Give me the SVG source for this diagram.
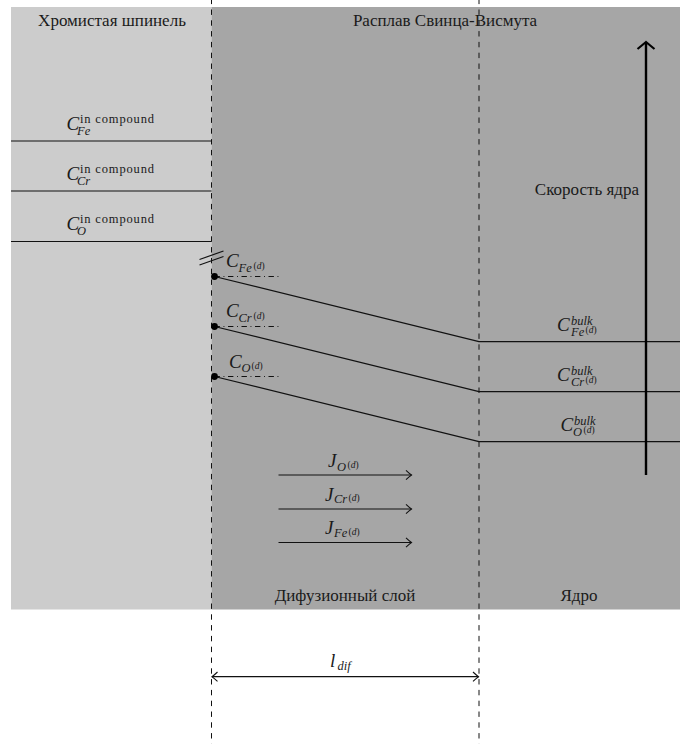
<svg xmlns="http://www.w3.org/2000/svg" width="684" height="744" viewBox="0 0 684 744">
<style>
.t{font-size:17px;fill:#1a1a1a}
.m{font-style:italic;fill:#1a1a1a}
.b{font-size:19px}
.s{font-size:12.5px}
.ss{font-size:9.5px}
.up{font-style:normal}
.ln{stroke:#111;stroke-width:1.2;fill:none}
.dash{stroke:#111;stroke-width:1;stroke-dasharray:5.4 5.4;stroke-dashoffset:1.3;fill:none}
.dd{stroke:#111;stroke-width:1;stroke-dasharray:5.4 3.6 0.9 3.6;fill:none}
</style>
<defs>
<marker id="to" markerUnits="userSpaceOnUse" markerWidth="12" markerHeight="12" refX="7" refY="6" orient="auto-start-reverse">
<path d="M1.5,1.3 Q5,4.6 7,6 Q5,7.4 1.5,10.7" fill="none" stroke="#111" stroke-width="1.1"/>
</marker>
<marker id="tobig" markerUnits="userSpaceOnUse" markerWidth="22" markerHeight="22" refX="11" refY="11" orient="auto">
<path d="M4,2.5 Q8.5,8 11,11 Q8.5,14 4,19.5" fill="none" stroke="#000" stroke-width="2.2"/>
</marker>
</defs>

<g id="regions">
<rect x="11" y="7" width="200.5" height="602.5" fill="#cccccc"/>
<rect x="211.5" y="7" width="468.5" height="602.5" fill="#a6a6a6"/>
</g>

<g id="connectors">
<line class="dash" x1="211.5" y1="0" x2="211.5" y2="744"/>
<line class="dash" x1="479" y1="0" x2="479" y2="744"/>
<line class="ln" x1="11" y1="141" x2="211.5" y2="141"/>
<line class="ln" x1="11" y1="191" x2="211.5" y2="191"/>
<line class="ln" x1="11" y1="241.5" x2="211.5" y2="241.5"/>
<line class="ln" x1="199.5" y1="259.5" x2="223.5" y2="251"/>
<line class="ln" x1="199.5" y1="265" x2="223.5" y2="256.5"/>
<line class="dd" x1="214.5" y1="276.5" x2="278.5" y2="276.5"/>
<line class="dd" x1="214.5" y1="326.5" x2="278.5" y2="326.5"/>
<line class="dd" x1="214.5" y1="376.5" x2="278.5" y2="376.5"/>
<polyline class="ln" points="214.5,276.5 479,341.7 680,341.7"/>
<polyline class="ln" points="214.5,326.5 479,391.7 680,391.7"/>
<polyline class="ln" points="214.5,376.5 479,441.7 680,441.7"/>
<circle cx="214.5" cy="276.5" r="3.4" fill="#000"/>
<circle cx="214.5" cy="326.5" r="3.4" fill="#000"/>
<circle cx="214.5" cy="376.5" r="3.4" fill="#000"/>
<line class="ln" x1="278.5" y1="475" x2="411.5" y2="475" marker-end="url(#to)"/>
<line class="ln" x1="278.5" y1="509" x2="411.5" y2="509" marker-end="url(#to)"/>
<line class="ln" x1="278.5" y1="542.5" x2="411.5" y2="542.5" marker-end="url(#to)"/>
<line class="ln" x1="212" y1="676.7" x2="478.5" y2="676.7" marker-start="url(#to)" marker-end="url(#to)"/>
<line x1="646" y1="475" x2="646" y2="42" stroke="#000" stroke-width="2.4" marker-end="url(#tobig)"/>
</g>

<g id="label-spinel"><text font-family="Liberation Serif" class="t" x="112" y="26" text-anchor="middle">Хромистая шпинель</text></g>
<g id="label-melt"><text font-family="Liberation Serif" class="t" x="445" y="26" text-anchor="middle">Расплав Свинца-Висмута</text></g>
<g id="label-speed"><text font-family="Liberation Serif" class="t" x="639" y="195" text-anchor="end">Скорость ядра</text></g>
<g id="label-diflayer"><text font-family="Liberation Serif" class="t" x="345" y="601" text-anchor="middle">Дифузионный слой</text></g>
<g id="label-core"><text font-family="Liberation Serif" class="t" x="579" y="601" text-anchor="middle">Ядро</text></g>

<g id="c-fe-compound"><text font-family="Liberation Serif" class="m"><tspan class="b" x="66.5" y="130">C</tspan><tspan class="s up" x="80" y="123" textLength="74" lengthAdjust="spacing">in compound</tspan></text><text font-family="Liberation Serif" class="m s" x="77" y="135">Fe</text></g>
<g id="c-cr-compound"><text font-family="Liberation Serif" class="m"><tspan class="b" x="66.5" y="180">C</tspan><tspan class="s up" x="80" y="173" textLength="74" lengthAdjust="spacing">in compound</tspan></text><text font-family="Liberation Serif" class="m s" x="77" y="185">Cr</text></g>
<g id="c-o-compound"><text font-family="Liberation Serif" class="m"><tspan class="b" x="66.5" y="230">C</tspan><tspan class="s up" x="80" y="223" textLength="74" lengthAdjust="spacing">in compound</tspan></text><text font-family="Liberation Serif" class="m s" x="77" y="235">O</text></g>

<g id="c-fe-d"><text font-family="Liberation Serif" class="m"><tspan class="b" x="226" y="266.5">C</tspan><tspan class="s" x="238.5" y="271.5">Fe</tspan><tspan class="ss" x="253.5" y="268.5"><tspan class="up">(</tspan>d<tspan class="up">)</tspan></tspan></text></g>
<g id="c-cr-d"><text font-family="Liberation Serif" class="m"><tspan class="b" x="226" y="317">C</tspan><tspan class="s" x="238.5" y="322">Cr</tspan><tspan class="ss" x="253.5" y="319"><tspan class="up">(</tspan>d<tspan class="up">)</tspan></tspan></text></g>
<g id="c-o-d"><text font-family="Liberation Serif" class="m"><tspan class="b" x="229" y="367.5">C</tspan><tspan class="s" x="241.5" y="372">O</tspan><tspan class="ss" x="251.5" y="369"><tspan class="up">(</tspan>d<tspan class="up">)</tspan></tspan></text></g>

<g id="c-fe-bulk"><text font-family="Liberation Serif" class="m"><tspan class="b" x="557" y="331">C</tspan><tspan class="s" x="571" y="324.5">bulk</tspan></text><text font-family="Liberation Serif" class="m"><tspan class="s" x="571" y="335.5">Fe</tspan><tspan class="ss" x="585.5" y="333"><tspan class="up">(</tspan>d<tspan class="up">)</tspan></tspan></text></g>
<g id="c-cr-bulk"><text font-family="Liberation Serif" class="m"><tspan class="b" x="557" y="381">C</tspan><tspan class="s" x="571" y="374.5">bulk</tspan></text><text font-family="Liberation Serif" class="m"><tspan class="s" x="571" y="385.5">Cr</tspan><tspan class="ss" x="585.5" y="383"><tspan class="up">(</tspan>d<tspan class="up">)</tspan></tspan></text></g>
<g id="c-o-bulk"><text font-family="Liberation Serif" class="m"><tspan class="b" x="560.5" y="430.5">C</tspan><tspan class="s" x="574" y="424.5">bulk</tspan></text><text font-family="Liberation Serif" class="m"><tspan class="s" x="573" y="435.5">O</tspan><tspan class="ss" x="583.5" y="433"><tspan class="up">(</tspan>d<tspan class="up">)</tspan></tspan></text></g>

<g id="j-o"><text font-family="Liberation Serif" class="m"><tspan class="b" x="328" y="467">J</tspan><tspan class="s" x="337" y="470.5">O</tspan><tspan class="ss" x="347.5" y="468"><tspan class="up">(</tspan>d<tspan class="up">)</tspan></tspan></text></g>
<g id="j-cr"><text font-family="Liberation Serif" class="m"><tspan class="b" x="325" y="500.5">J</tspan><tspan class="s" x="334" y="503">Cr</tspan><tspan class="ss" x="348.5" y="501"><tspan class="up">(</tspan>d<tspan class="up">)</tspan></tspan></text></g>
<g id="j-fe"><text font-family="Liberation Serif" class="m"><tspan class="b" x="325" y="534">J</tspan><tspan class="s" x="334" y="537">Fe</tspan><tspan class="ss" x="348.5" y="534.5"><tspan class="up">(</tspan>d<tspan class="up">)</tspan></tspan></text></g>

<g id="l-dif"><text font-family="Liberation Serif" class="m"><tspan class="b" x="330" y="666.5">l</tspan><tspan class="s" x="337.5" y="669.5">dif</tspan></text></g>
</svg>
